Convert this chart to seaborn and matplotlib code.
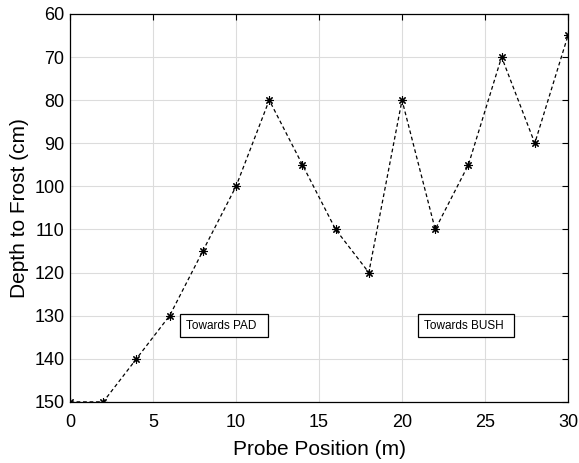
import matplotlib
matplotlib.use("Agg")
import matplotlib.pyplot as plt
from matplotlib.patches import Rectangle
import seaborn as sns
import pandas as pd

# Probe survey: frost depth along the transect
position_m = [0, 2, 4, 6, 8, 10, 12, 14, 16, 18, 20, 22, 24, 26, 28, 30]
depth_cm = [150, 150, 140, 130, 115, 100, 80, 95, 110, 120, 80, 110, 95, 70, 90, 65]
x_ticks = [0, 5, 10, 15, 20, 25, 30]
y_ticks = [60, 70, 80, 90, 100, 110, 120, 130, 140, 150]
notes = ["Towards PAD", "Towards BUSH"]

df = pd.DataFrame({"pos": position_m, "depth": depth_cm})

sns.set_theme(style="white")
plt.rcParams["font.family"] = ["Liberation Sans", "DejaVu Sans"]
plt.rcParams["text.color"] = "black"
plt.rcParams["axes.labelcolor"] = "black"

fig = plt.figure(figsize=(5.79, 4.63), dpi=100)
ax = fig.add_axes([0.121, 0.132, 0.860, 0.838])

sns.lineplot(data=df, x="pos", y="depth", ax=ax, color="black",
             linewidth=0.9, marker=(8, 2, 0), markersize=6,
             markeredgecolor="black", markerfacecolor="black",
             markeredgewidth=0.8, sort=False)
ax.lines[0].set_dashes([3, 2.2])

ax.set_xlim(0, 30)
ax.set_ylim(150, 60)
ax.set_xticks(x_ticks)
ax.set_yticks(y_ticks)
ax.grid(True, color="#dcdcdc", linewidth=0.8)
ax.set_axisbelow(True)
ax.tick_params(direction="in", top=True, right=True, length=4,
               labelsize=13, colors="black", width=0.8)
ax.tick_params(axis="x", pad=9)
ax.tick_params(axis="y", pad=4)
for s in ax.spines.values():
    s.set_color("black")
    s.set_linewidth(0.9)

ax.set_xlabel("Probe Position (m)", fontsize=15, labelpad=6)
ax.set_ylabel("Depth to Frost (cm)", fontsize=15, labelpad=4)

# Annotation boxes (data coordinates: x0, x1, y-top, y-bottom)
for label, (x0, x1), tx in zip(notes, [(6.63, 11.93), (20.96, 26.75)], [6.97, 21.3]):
    ax.add_patch(Rectangle((x0, 129.6), x1 - x0, 5.3, facecolor="white",
                           edgecolor="black", linewidth=0.9, zorder=3))
    ax.text(tx, 132.3, label, fontsize=8.5, va="center", ha="left", zorder=4)

fig.savefig("out.png", dpi=100)
